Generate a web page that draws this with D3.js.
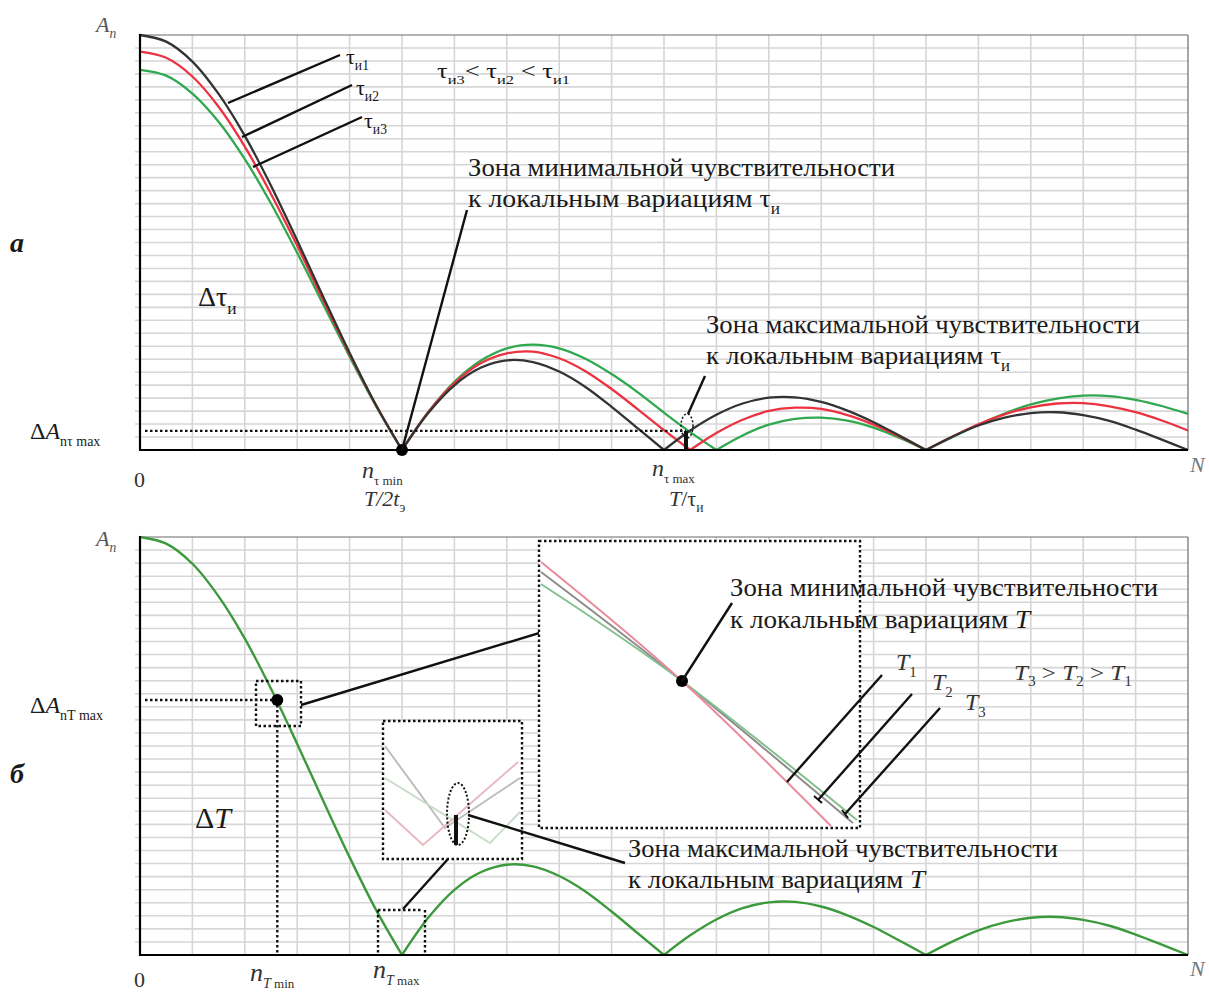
<!DOCTYPE html>
<html>
<head>
<meta charset="utf-8">
<script src="https://cdn.jsdelivr.net/npm/d3@7"></script>
<style>
  body { margin: 0; background: #fff; }
  text { font-family: "Liberation Serif", "DejaVu Serif", serif; fill: #1a1a1a; }
</style>
</head>
<body>
<svg id="fig" width="1209" height="994"></svg>
<script>
// harmonic number n (0..N) at which the amplitudes were read
let nPts = [0, 2.5, 5, 7.5, 10, 12.5, 15, 17.5, 20, 22.5, 25, 27.5, 30, 32.5, 35, 37.5, 40,
  42.5, 45, 47.5, 50, 52.5, 55, 57.5, 60, 62.5, 65, 67.5, 70, 72.5, 75, 77.5, 80, 82.5, 85,
  87.5, 90, 92.5, 95, 97.5, 100];

// panel a: three pulse widths
let tau1 = [1.000, 0.984, 0.936, 0.858, 0.757, 0.637, 0.505, 0.368, 0.234, 0.109, 0,
  0.089, 0.156, 0.198, 0.216, 0.212, 0.189, 0.152, 0.104, 0.052, 0,
  0.047, 0.085, 0.112, 0.126, 0.127, 0.116, 0.095, 0.067, 0.034, 0,
  0.032, 0.059, 0.078, 0.089, 0.091, 0.084, 0.070, 0.049, 0.025, 0];
let tau2 = [0.960, 0.945, 0.900, 0.827, 0.731, 0.617, 0.492, 0.360, 0.231, 0.109, 0,
  0.091, 0.161, 0.209, 0.233, 0.237, 0.221, 0.190, 0.147, 0.098, 0.048,
  0, 0.041, 0.073, 0.094, 0.102, 0.099, 0.084, 0.061, 0.032, 0,
  0.032, 0.062, 0.086, 0.103, 0.112, 0.113, 0.105, 0.091, 0.071, 0.047];
let tau3 = [0.916, 0.902, 0.859, 0.791, 0.701, 0.594, 0.475, 0.350, 0.225, 0.107, 0,
  0.091, 0.164, 0.215, 0.245, 0.254, 0.245, 0.220, 0.183, 0.139, 0.090,
  0.043, 0, 0.035, 0.061, 0.075, 0.078, 0.071, 0.054, 0.029, 0,
  0.031, 0.061, 0.088, 0.110, 0.124, 0.131, 0.130, 0.121, 0.106, 0.087];

// panel б: periods T1..T3 (curves lie on top of each other)
let specT = [1.000, 0.984, 0.936, 0.858, 0.757, 0.637, 0.505, 0.368, 0.234, 0.109, 0,
  0.089, 0.156, 0.198, 0.216, 0.212, 0.189, 0.152, 0.104, 0.052, 0,
  0.047, 0.085, 0.112, 0.126, 0.127, 0.116, 0.095, 0.067, 0.034, 0,
  0.032, 0.059, 0.078, 0.089, 0.091, 0.084, 0.070, 0.049, 0.025, 0];

let gridN = [5, 10, 15, 20, 25, 30, 35, 40, 45, 50, 55, 60, 65, 70, 75, 80, 85, 90, 95];

// marked points
let nTauMin = 25, nTauMax = 52.1, dAtau = 0.046;
let nTmin = 13.1, aTmin = 0.61, nTmax = 25;

const svg = d3.select("svg#fig");
const x = d3.scaleLinear().domain([0, 100]).range([140, 1188]);
const yTop = d3.scaleLinear().domain([0, 1]).range([450, 35]);
const yBot = d3.scaleLinear().domain([0, 1]).range([955, 537]);

function drawGrid(y){
  let g = svg.append("g");
  g.selectAll("line.gv").data(gridN).join("line")
    .attr("class", "gv")
    .attr("x1", d => x(d)).attr("x2", d => x(d))
    .attr("y1", y(0)).attr("y2", y(1))
    .attr("stroke", "#d6d6d6").attr("stroke-width", 1.6);
  g.selectAll("line.gh").data(d3.range(1, 32).map(k => k / 32)).join("line")
    .attr("class", "gh")
    .attr("x1", x(0) - 5).attr("x2", x(100))
    .attr("y1", d => y(d)).attr("y2", d => y(d))
    .attr("stroke", "#d6d6d6").attr("stroke-width", 1.6);
  // frame
  g.append("line").attr("x1", x(0)).attr("x2", x(100)).attr("y1", y(1)).attr("y2", y(1))
    .attr("stroke", "#6a6a6a").attr("stroke-width", 1.2);
  g.append("line").attr("x1", x(100)).attr("x2", x(100)).attr("y1", y(1)).attr("y2", y(0))
    .attr("stroke", "#6a6a6a").attr("stroke-width", 1.2);
}

function drawAxes(y){
  svg.append("line").attr("x1", x(0)).attr("x2", x(0)).attr("y1", y(1) - 1).attr("y2", y(0) + 1)
    .attr("stroke", "#000").attr("stroke-width", 2.2);
  svg.append("line").attr("x1", x(0)).attr("x2", x(100)).attr("y1", y(0)).attr("y2", y(0))
    .attr("stroke", "#000").attr("stroke-width", 2.2);
}

// split a series into lobes at its zeros so the cusps stay sharp
function lobes(vals){
  let out = [], cur = [];
  vals.forEach((a, i) => {
    cur.push([nPts[i], a]);
    if (a === 0 && cur.length > 1) { out.push(cur); cur = [[nPts[i], a]]; }
  });
  if (cur.length > 1) out.push(cur);
  return out;
}

function drawSeries(vals, y, color, w){
  let line = d3.line().x(d => x(d[0])).y(d => y(d[1])).curve(d3.curveCatmullRom.alpha(0.5));
  svg.append("g").selectAll("path").data(lobes(vals)).join("path")
    .attr("d", line)
    .attr("fill", "none").attr("stroke", color).attr("stroke-width", w);
}

// text with subscript pieces
function label(x0, y0, size, parts, color){
  let t = svg.append("text").attr("x", x0).attr("y", y0).attr("font-size", size);
  if (color) t.style("fill", color);
  let shift = 0;
  parts.forEach(p => {
    let s = t.append("tspan").text(p.t);
    let want = p.sub ? Math.round(size * 0.28) : 0;
    if (want !== shift) { s.attr("dy", want - shift); shift = want; }
    if (p.sub) s.attr("font-size", p.size || size * 0.62);
    if (p.i) s.attr("font-style", "italic");
    if (p.b) s.attr("font-weight", "bold");
  });
  return t;
}

function fit(t, w){
  return t.attr("textLength", w).attr("lengthAdjust", "spacingAndGlyphs");
}

function seg(x1, y1, x2, y2, w, dash, color){
  let l = svg.append("line").attr("x1", x1).attr("y1", y1).attr("x2", x2).attr("y2", y2)
    .attr("stroke", color || "#111").attr("stroke-width", w || 2);
  if (dash) l.attr("stroke-dasharray", dash).attr("stroke-linecap", "butt");
  return l;
}

function dotBox(x1, y1, x2, y2, fill){
  svg.append("rect").attr("x", x1).attr("y", y1).attr("width", x2 - x1).attr("height", y2 - y1)
    .attr("fill", fill || "none").attr("stroke", "#111").attr("stroke-width", 2.4)
    .attr("stroke-dasharray", "2.5,2.5");
}

// ---------- panel a ----------
drawGrid(yTop);
drawSeries(tau3, yTop, "#2fa84f", 2.3);
drawSeries(tau2, yTop, "#ec3240", 2.3);
drawSeries(tau1, yTop, "#333", 2.3);
drawAxes(yTop);

// dotted level and markers
seg(x(0) + 5, yTop(dAtau), x(nTauMax), yTop(dAtau), 2.4, "2.5,2.5");
svg.append("ellipse").attr("cx", x(nTauMax) + 1).attr("cy", yTop(dAtau) - 5).attr("rx", 6).attr("ry", 12)
  .attr("fill", "none").attr("stroke", "#111").attr("stroke-width", 1.5).attr("stroke-dasharray", "2,2");
seg(x(nTauMax), yTop(dAtau), x(nTauMax), yTop(0), 4);
svg.append("circle").attr("cx", x(nTauMin)).attr("cy", yTop(0)).attr("r", 6).attr("fill", "#000");

// leaders
seg(228, 103, 340, 55, 2.4);
seg(242, 137, 352, 85, 2.4);
seg(253, 167, 362, 117, 2.4);
seg(x(nTauMin), yTop(0), 467, 210, 2.4);
seg(688, 414, 705, 376, 2.4);

label(346, 64, 22, [{t: "τ"}, {t: "и1", sub: 1}]);
label(356, 95, 22, [{t: "τ"}, {t: "и2", sub: 1}]);
label(364, 128, 22, [{t: "τ"}, {t: "и3", sub: 1}]);
fit(label(437, 78, 21, [{t: "τ"}, {t: "и3", sub: 1}, {t: "< τ"}, {t: "и2", sub: 1}, {t: " < τ"}, {t: "и1", sub: 1}]), 133);

fit(label(468, 176, 26, [{t: "Зона минимальной чувствительности"}]), 427);
fit(label(468, 207, 26, [{t: "к локальным вариациям τ"}, {t: "и", sub: 1}]), 312);
fit(label(706, 333, 26, [{t: "Зона максимальной чувствительности"}]), 434);
fit(label(706, 364, 26, [{t: "к локальным вариациям τ"}, {t: "и", sub: 1}]), 304);

label(198, 306, 28, [{t: "Δτ"}, {t: "и", sub: 1}]);
label(96, 32, 22, [{t: "A", i: 1}, {t: "n", i: 1, sub: 1}], "#555");
label(10, 252, 28, [{t: "а", i: 1, b: 1}]);
label(30, 439, 24, [{t: "Δ"}, {t: "A", i: 1}, {t: "nτ max", sub: 1, size: 14}]);
label(134, 487, 22, [{t: "0"}], "#333");
label(1190, 472, 22, [{t: "N", i: 1}], "#777");
label(362, 478, 24, [{t: "n", i: 1}, {t: "τ min", sub: 1, size: 13}], "#333");
label(364, 506, 22, [{t: "T/2t", i: 1}, {t: "э", sub: 1}], "#333");
label(652, 476, 24, [{t: "n", i: 1}, {t: "τ max", sub: 1, size: 13}], "#333");
label(669, 506, 22, [{t: "T", i: 1}, {t: "/τ"}, {t: "и", sub: 1}], "#333");

// ---------- panel б ----------
drawGrid(yBot);
drawSeries(specT, yBot, "#3c9a3c", 2.4);
drawAxes(yBot);

// n_T min marker
dotBox(256, 681, 301, 726);
seg(x(0) + 5, yBot(aTmin), x(nTmin), yBot(aTmin), 2.4, "2.5,2.5");
seg(x(nTmin), yBot(aTmin), x(nTmin), yBot(0), 2.4, "2.5,2.5");
svg.append("circle").attr("cx", x(nTmin)).attr("cy", yBot(aTmin)).attr("r", 6).attr("fill", "#000");
seg(301, 705, 592, 617, 2.4);

// n_T max marker
seg(378, 910, 378, yBot(0), 2.4, "2.5,2.5");
seg(425, 910, 425, yBot(0), 2.4, "2.5,2.5");
seg(378, 910, 423, 910, 2.4, "2.5,2.5");
seg(403, 909, 448, 859, 2.4);

// big inset: zoom around n_T min
dotBox(539, 541, 860, 828, "#fff");
let inset = d3.line().curve(d3.curveNatural);
[["#8c8c8c", [[541, 572], [682, 681], [853, 823]]],
 ["#82c08f", [[541, 584], [682, 681], [857, 820]]],
 ["#ea8a9b", [[541, 562], [682, 681], [831, 826]]]].forEach(c => {
  svg.append("path").attr("d", inset(c[1])).attr("fill", "none")
    .attr("stroke", c[0]).attr("stroke-width", 2);
});
svg.append("circle").attr("cx", 682).attr("cy", 681).attr("r", 6).attr("fill", "#000");
seg(682, 681, 732, 603, 2.4);
seg(787, 782, 882, 675, 2.4);
seg(818, 800, 912, 694, 2.4);
seg(845, 814, 940, 708, 2.4);
seg(814, 796, 822, 803, 2);
seg(842, 810, 848, 818, 2);

fit(label(730, 596, 26, [{t: "Зона минимальной чувствительности"}]), 428);
fit(label(730, 628, 26, [{t: "к локальным вариациям "}, {t: "T", i: 1}]), 300);
label(896, 670, 24, [{t: "T", i: 1}, {t: "1", sub: 1}], "#333");
label(932, 690, 24, [{t: "T", i: 1}, {t: "2", sub: 1}], "#333");
label(965, 710, 24, [{t: "T", i: 1}, {t: "3", sub: 1}], "#333");
fit(label(1014, 680, 22, [{t: "T", i: 1}, {t: "3", sub: 1}, {t: " > "}, {t: "T", i: 1}, {t: "2", sub: 1}, {t: " > "}, {t: "T", i: 1}, {t: "1", sub: 1}], "#333"), 118);

// small inset: zoom around n_T max
dotBox(383, 721, 522, 859, "#fff");
[["#bdbdbd", [[385, 746], [445, 828], [520, 778]]],
 ["#c8dcc8", [[385, 778], [490, 843], [520, 812]]],
 ["#e8b8c0", [[385, 810], [423, 845], [518, 762]]]].forEach(c => {
  svg.append("path").attr("d", d3.line()(c[1])).attr("fill", "none")
    .attr("stroke", c[0]).attr("stroke-width", 2);
});
svg.append("ellipse").attr("cx", 458).attr("cy", 814).attr("rx", 11).attr("ry", 31)
  .attr("fill", "none").attr("stroke", "#111").attr("stroke-width", 2).attr("stroke-dasharray", "2,2");
seg(456, 815, 456, 845, 4);
seg(468, 815, 625, 863, 2.4);

fit(label(628, 857, 26, [{t: "Зона максимальной чувствительности"}]), 430);
fit(label(628, 888, 26, [{t: "к локальным вариациям "}, {t: "T", i: 1}]), 297);

label(195, 828, 30, [{t: "Δ"}, {t: "T", i: 1}]);
label(96, 546, 22, [{t: "A", i: 1}, {t: "n", i: 1, sub: 1}], "#555");
label(10, 783, 28, [{t: "б", i: 1, b: 1}]);
label(30, 713, 24, [{t: "Δ"}, {t: "A", i: 1}, {t: "nT max", sub: 1, size: 14}]);
label(134, 987, 22, [{t: "0"}], "#333");
label(1190, 976, 22, [{t: "N", i: 1}], "#777");
label(250, 981, 26, [{t: "n", i: 1}, {t: "T", i: 1, sub: 1, size: 14}, {t: " min", sub: 1, size: 13}], "#333");
label(373, 978, 26, [{t: "n", i: 1}, {t: "T", i: 1, sub: 1, size: 14}, {t: " max", sub: 1, size: 13}], "#333");
</script>
</body>
</html>
